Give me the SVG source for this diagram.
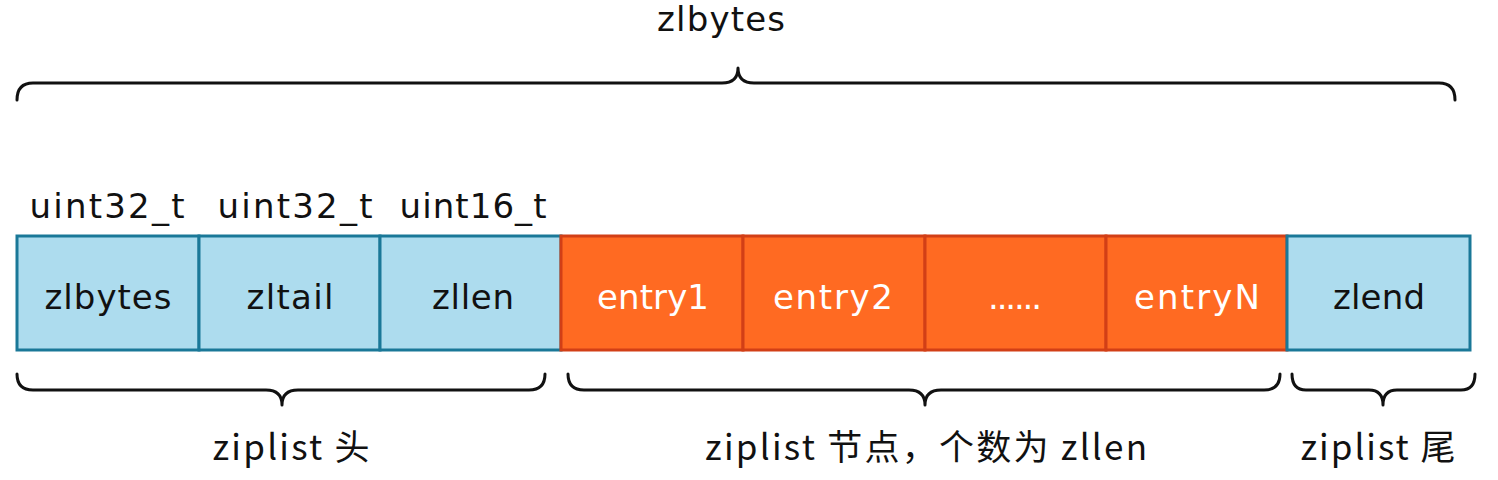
<svg xmlns="http://www.w3.org/2000/svg" width="1498" height="480" viewBox="0 0 1498 480">
<style>
.blue{fill:#addcee;stroke:#1a7898;stroke-width:3}
.orange{fill:#ff6a22;stroke:#d23f16;stroke-width:3}
.t{font-family:"DejaVu Sans","Liberation Sans",sans-serif;font-size:34px;text-anchor:middle}
.dk{fill:#111}
.wh{fill:#fff}
.cn{font-family:"Noto Sans CJK SC","Liberation Sans",sans-serif;font-size:35px;text-anchor:middle;fill:#111}
.brace{fill:none;stroke:#111;stroke-width:3;stroke-linecap:round;stroke-linejoin:round}
</style>
<rect width="1498" height="480" fill="#fff"/>
<text class="t dk" x="721" y="31" textLength="128">zlbytes</text>
<text class="t dk" x="107" y="218" textLength="155">uint32_t</text>
<text class="t dk" x="295" y="218" textLength="155">uint32_t</text>
<text class="t dk" x="473" y="218" textLength="147">uint16_t</text>
<g id="zlbytes"><rect class="blue" x="17" y="236" width="182" height="114"/><text class="t dk" x="108" y="309" textLength="127">zlbytes</text></g>
<g id="zltail"><rect class="blue" x="199" y="236" width="181" height="114"/><text class="t dk" x="290" y="309" textLength="87">zltail</text></g>
<g id="zllen"><rect class="blue" x="380" y="236" width="181" height="114"/><text class="t dk" x="473" y="309" textLength="82">zllen</text></g>
<g id="entry1"><rect class="orange" x="561" y="236" width="182" height="114"/><text class="t wh" x="653" y="309" textLength="112">entry1</text></g>
<g id="entry2"><rect class="orange" x="743" y="236" width="182" height="114"/><text class="t wh" x="833" y="309" textLength="120">entry2</text></g>
<g id="dots"><rect class="orange" x="925" y="236" width="181" height="114"/><text class="t wh" x="1015" y="309" textLength="54">......</text></g>
<g id="entryN"><rect class="orange" x="1106" y="236" width="181" height="114"/><text class="t wh" x="1197" y="309" textLength="126">entryN</text></g>
<g id="zlend"><rect class="blue" x="1287" y="236" width="183" height="114"/><text class="t dk" x="1379" y="309" textLength="92">zlend</text></g>
<g id="connectors">
<path class="brace" d="M17,100 Q17,83 33,83 L722,83 Q738,83 738,68 Q738,83 754,83 L1439,83 Q1455,83 1455,100"/>
<path class="brace" d="M17,374 Q17,390 33,390 L266,390 Q282,390 282,405 Q282,390 298,390 L529,390 Q545,390 545,374"/>
<path class="brace" d="M568,374 Q568,390 584,390 L909,390 Q925,390 925,405 Q925,390 941,390 L1264,390 Q1280,390 1280,374"/>
<path class="brace" d="M1292,374 Q1292,390 1306,390 L1369,390 Q1383,390 1383,405 Q1383,390 1397,390 L1461,390 Q1475,390 1475,374"/>
</g>
<text class="cn" x="291" y="460" textLength="157">ziplist 头</text>
<text class="cn" x="926" y="460" textLength="442">ziplist 节点，个数为 zllen</text>
<text class="cn" x="1378" y="460" textLength="155">ziplist 尾</text>
</svg>
